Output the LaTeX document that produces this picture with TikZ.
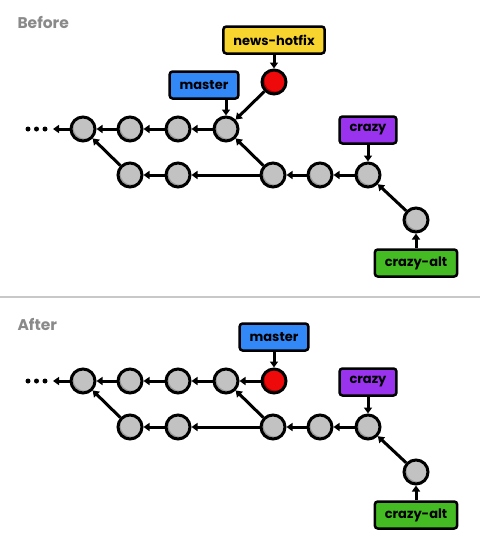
\documentclass[tikz,border=0pt]{standalone}
\usepackage{fontspec}
\setmainfont{Poppins}
\usetikzlibrary{arrows.meta}
\definecolor{ballgray}{HTML}{C2C2C2}
\definecolor{ballshade}{HTML}{9C9C9C}
\definecolor{hotred}{HTML}{EE0A0A}
\definecolor{hotshade}{HTML}{B00000}
\definecolor{hotfixyellow}{HTML}{F7D52E}
\definecolor{masterblue}{HTML}{3388F8}
\definecolor{crazypurple}{HTML}{9933EE}
\definecolor{altgreen}{HTML}{44BB22}
\definecolor{titlegray}{HTML}{8A8A8A}
\definecolor{rulegray}{HTML}{C8C8C8}
\begin{document}
\begin{tikzpicture}[x=1pt,y=-1pt]

\tikzset{commit/.style={circle,minimum size=24pt,inner sep=0pt,draw,line width=3pt,fill=ballshade,
    path picture={\fill[ballgray] ([xshift=1.5pt,yshift=1.5pt]path picture bounding box.center) circle (11pt);}},}
\tikzset{hotcommit/.style={commit,fill=hotshade,
    path picture={\fill[hotred] ([xshift=1.5pt,yshift=1.5pt]path picture bounding box.center) circle (11pt);}},}
\tikzset{branch/.style={draw,line width=2.5pt,rounded corners=3pt,minimum height=27pt,inner xsep=10pt,
    font=\bfseries\fontsize{13}{15}\selectfont,text=black},}
\tikzset{edge/.style={-{Triangle[length=6pt,width=8pt]},line width=3pt},}
\tikzset{panel/.style={anchor=west,text=titlegray,font=\bfseries\fontsize{15.5}{17}\selectfont},}

\useasboundingbox (0,0) rectangle (480,550);

%%% before
  \draw (14,22) node[panel](tbefore) {Before};
  \draw (83,129) node[commit](b1) {};
  \draw (130,129) node[commit](b2) {};
  \draw (178,129) node[commit](b3) {};
  \draw (226,129) node[commit](b4) {};
  \draw (274,82) node[hotcommit](bh) {};
  \draw (130,175) node[commit](b5) {};
  \draw (178,175) node[commit](b6) {};
  \draw (273,175) node[commit](b7) {};
  \draw (320,175) node[commit](b8) {};
  \draw (368,175) node[commit](b9) {};
  \draw (416,220) node[commit](b10) {};
  \coordinate (bmore) at (53,129);
  \foreach \x in {28,36.5,45} \fill (\x,129) circle (2.5pt);

  \draw (274,40) node[branch,fill=hotfixyellow](bhotfix) {news-hotfix};
  \draw (204,85) node[branch,fill=masterblue](bmaster) {master};
  \draw (368,130) node[branch,fill=crazypurple](bcrazy) {crazy};
  \draw (416,263) node[branch,fill=altgreen](balt) {crazy-alt};

  %edges before
  \draw[edge] (b1) -- (bmore);
  \draw[edge] (b2) -- (b1);
  \draw[edge] (b3) -- (b2);
  \draw[edge] (b4) -- (b3);
  \draw[edge] (bh) -- (b4);
  \draw[edge] (b5) -- (b1);
  \draw[edge] (b6) -- (b5);
  \draw[edge] (b7) -- (b6);
  \draw[edge] (b7) -- (b4);
  \draw[edge] (b8) -- (b7);
  \draw[edge] (b9) -- (b8);
  \draw[edge] (b10) -- (b9);
  \draw[edge] (bhotfix) -- (bh);
  \draw[edge] (bmaster.south -| b4) -- (b4);
  \draw[edge] (bcrazy) -- (b9);
  \draw[edge] (balt) -- (b10);

  \draw[rulegray,line width=2pt] (0,297) -- (480,297);

%%% after
  \draw (14,324) node[panel](tafter) {After};
  \draw (83,381) node[commit](a1) {};
  \draw (130,381) node[commit](a2) {};
  \draw (178,381) node[commit](a3) {};
  \draw (226,381) node[commit](a4) {};
  \draw (274,381) node[hotcommit](ah) {};
  \draw (130,427) node[commit](a5) {};
  \draw (178,427) node[commit](a6) {};
  \draw (273,427) node[commit](a7) {};
  \draw (320,427) node[commit](a8) {};
  \draw (368,427) node[commit](a9) {};
  \draw (416,472) node[commit](a10) {};
  \coordinate (amore) at (53,381);
  \foreach \x in {28,36.5,45} \fill (\x,381) circle (2.5pt);

  \draw (274,337) node[branch,fill=masterblue](amaster) {master};
  \draw (368,382) node[branch,fill=crazypurple](acrazy) {crazy};
  \draw (416,515) node[branch,fill=altgreen](aalt) {crazy-alt};

  %edges after
  \draw[edge] (a1) -- (amore);
  \draw[edge] (a2) -- (a1);
  \draw[edge] (a3) -- (a2);
  \draw[edge] (a4) -- (a3);
  \draw[edge] (ah) -- (a4);
  \draw[edge] (a5) -- (a1);
  \draw[edge] (a6) -- (a5);
  \draw[edge] (a7) -- (a6);
  \draw[edge] (a7) -- (a4);
  \draw[edge] (a8) -- (a7);
  \draw[edge] (a9) -- (a8);
  \draw[edge] (a10) -- (a9);
  \draw[edge] (amaster) -- (ah);
  \draw[edge] (acrazy) -- (a9);
  \draw[edge] (aalt) -- (a10);

\end{tikzpicture}
\end{document}
